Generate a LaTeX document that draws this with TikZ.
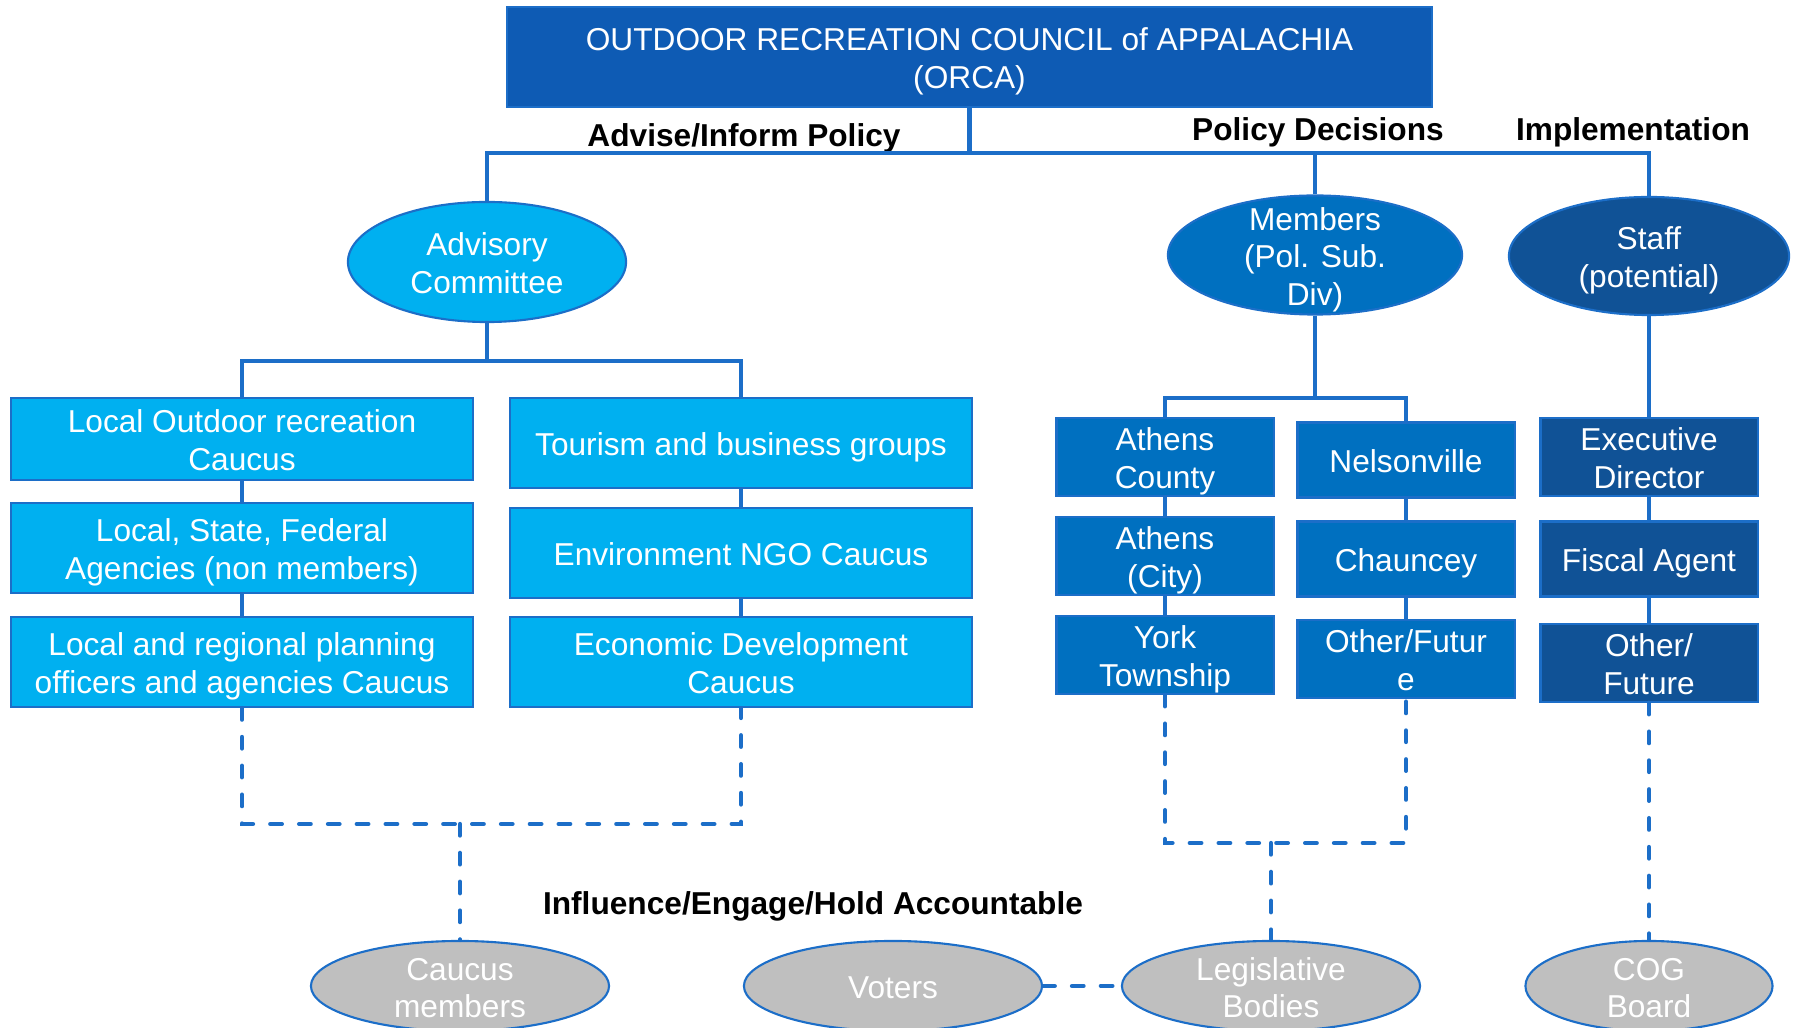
\documentclass[tikz,border=0pt]{standalone}
\usepackage{fontspec}
\setmainfont{Liberation Sans}
\usetikzlibrary{shapes.geometric}
\definecolor{orcablue}{RGB}{14,91,180}
\definecolor{cyanbox}{RGB}{0,176,240}
\definecolor{midblue}{RGB}{0,112,192}
\definecolor{staffblue}{RGB}{16,82,150}
\definecolor{linkblue}{RGB}{28,110,200}
\definecolor{ovalgray}{RGB}{191,191,191}

\begin{document}
\begin{tikzpicture}[x=0.01cm, y=-0.01cm, font=\fontsize{9}{10.8}\selectfont,
  link/.style={draw=linkblue, line width=1.4pt},
  dlink/.style={draw=linkblue, line width=1.2pt, line cap=round, dash pattern=on 3.3pt off 4.9pt},
  oneline/.style={text height=9.2pt, text depth=1.91pt},
  twoline/.style={text height=20.1pt, text depth=1.91pt},
  threeline/.style={text height=30.9pt, text depth=1.91pt},
  hdr/.style={font=\fontsize{9}{10.8}\selectfont\bfseries, inner sep=0pt, oneline}]
\tikzstyle{box}=[rectangle, draw=linkblue, line width=0.6pt, text=white, align=center, inner xsep=2pt, inner ysep=0pt, twoline, minimum width=4.62cm, minimum height=0.9cm]
\tikzstyle{oval}=[ellipse, draw=linkblue, line width=0.6pt, inner sep=0pt]
\tikzstyle{inside}=[text=white, align=center, inner sep=0pt, twoline]
\useasboundingbox (0,0) rectangle (1793,1028);
\clip (0,0) rectangle (1793,1028);

\node[box, fill=orcablue, minimum width=9.25cm, minimum height=1.0cm] (orca) at (969.5,57) {OUTDOOR RECREATION COUNCIL of APPALACHIA\\(ORCA)};
\node[hdr] (advise) at (744,134) {Advise/Inform Policy};
\node[hdr] (policy) at (1318,128) {Policy Decisions};
\node[hdr] (impl) at (1633,128) {Implementation};
\node[hdr] (infl) at (813,902) {Influence/Engage/Hold Accountable};

\node[oval, fill=cyanbox, minimum width=2.78cm, minimum height=1.20cm, label={[inside]center:{Advisory\\Committee}}] (adv) at (487,262) {};
\node[oval, fill=midblue, minimum width=2.94cm, minimum height=1.19cm, label={[inside, threeline]center:{Members\\(Pol. Sub.\\Div)}}] (mem) at (1315,255) {};
\node[oval, fill=staffblue, minimum width=2.80cm, minimum height=1.18cm, label={[inside]center:{Staff\\(potential)}}] (stf) at (1649,256) {};

\node[box, fill=cyanbox, minimum height=0.82cm] (L1) at (242,439) {Local Outdoor recreation\\Caucus};
\node[box, fill=cyanbox] (L2) at (242,548) {Local, State, Federal\\Agencies (non members)};
\node[box, fill=cyanbox] (L3) at (242,662) {Local and regional planning\\officers and agencies Caucus};
\node[box, fill=cyanbox, oneline] (R1) at (741,443) {Tourism and business groups};
\node[box, fill=cyanbox, oneline] (R2) at (741,553) {Environment NGO Caucus};
\node[box, fill=cyanbox] (R3) at (741,662) {Economic Development\\Caucus};

\tikzstyle{sbox}=[box, minimum width=2.17cm, minimum height=0.75cm]
\node[sbox, fill=midblue] (ac) at (1165,457) {Athens\\County};
\node[sbox, fill=midblue] (ci) at (1165,556) {Athens\\(City)};
\node[sbox, fill=midblue] (yo) at (1165,655) {York\\Township};
\node[sbox, fill=midblue, oneline] (ne) at (1406,460) {Nelsonville};
\node[sbox, fill=midblue, oneline] (ch) at (1406,559) {Chauncey};
\node[sbox, fill=midblue] (of) at (1406,659) {Other/Futur\\e};
\node[sbox, fill=staffblue] (ex) at (1649,457) {Executive\\Director};
\node[sbox, fill=staffblue, oneline] (fi) at (1649,559) {Fiscal Agent};
\node[sbox, fill=staffblue] (ot) at (1649,663) {Other/\\Future};

\node[oval, fill=ovalgray, minimum width=2.98cm, minimum height=0.90cm, label={[inside]center:{Caucus\\members}}] (cau) at (460,986) {};
\node[oval, fill=ovalgray, minimum width=2.98cm, minimum height=0.90cm, label={[inside, oneline]center:{Voters}}] (vot) at (893,986) {};
\node[oval, fill=ovalgray, minimum width=2.98cm, minimum height=0.90cm, label={[inside]center:{Legislative\\Bodies}}] (leg) at (1271,986) {};
\node[oval, fill=ovalgray, minimum width=2.47cm, minimum height=0.90cm, label={[inside]center:{COG\\Board}}] (cog) at (1649,986) {};

\coordinate (hub) at (969.5,153);
\coordinate (advhub) at (487,361);
\coordinate (memhub) at (1315,398);
\coordinate (lhub) at (460,824);
\coordinate (mhub) at (1271,843);

\draw[link] (orca.south) -- (hub) -| (adv.north);
\draw[link] (hub) -| (mem.north);
\draw[link] (hub) -| (stf.north);
\draw[link] (adv.south) -- (advhub) -| (L1.north);
\draw[link] (advhub) -| (R1.north);
\draw[link] (mem.south) -- (memhub) -| (ac.north);
\draw[link] (memhub) -| (ne.north);
\draw[link] (stf.south) -- (ex.north);
\foreach \i/\j in {L1/L2,L2/L3,R1/R2,R2/R3,ac/ci,ci/yo,ne/ch,ch/of,ex/fi,fi/ot}{\draw[link] (\i.south) -- (\j.north);}

\draw[dlink] (L3.south) |- (lhub) -| (R3.south);
\draw[dlink] (lhub) -- (cau.north);
\draw[dlink] (yo.south) |- (mhub) -| (of.south);
\draw[dlink] (mhub) -- (leg.north);
\draw[dlink] (ot.south) -- (cog.north);
\draw[dlink] (vot.east) -- (leg.west);
\end{tikzpicture}
\end{document}
